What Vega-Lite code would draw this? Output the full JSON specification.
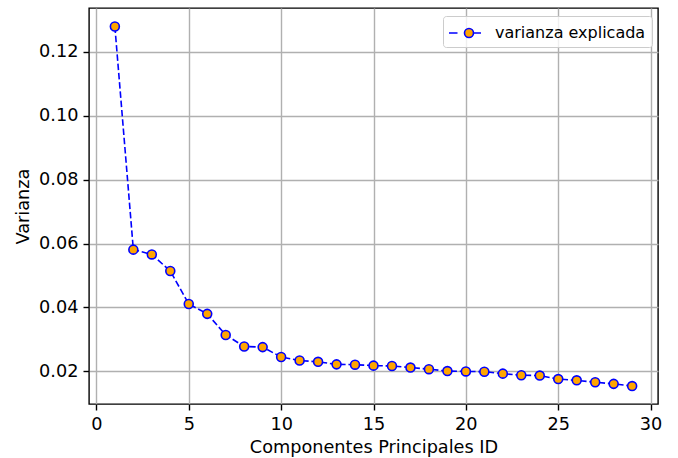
{
  "$schema": "https://vega.github.io/schema/vega-lite/v6.json",
  "width": 569,
  "height": 396,
  "autosize": {"type": "none"},
  "padding": {"left": 89, "top": 8, "right": 20, "bottom": 54},
  "background": "white",
  "config": {
    "font": "DejaVu Sans",
    "view": {"stroke": "black", "strokeWidth": 1.4},
    "axis": {
      "domain": false,
      "grid": true,
      "gridColor": "#b0b0b0",
      "gridWidth": 1.4,
      "tickColor": "black",
      "tickWidth": 1.4,
      "tickSize": 6,
      "labelFont": "DejaVu Sans",
      "labelFontSize": 17.7,
      "labelColor": "black",
      "labelPadding": 5,
      "titleFont": "DejaVu Sans",
      "titleFontSize": 17.7,
      "titleFontWeight": "normal",
      "titleColor": "black"
    }
  },
  "data": {
    "values": [
      {"componente": 1, "varianza": 0.1279},
      {"componente": 2, "varianza": 0.0581},
      {"componente": 3, "varianza": 0.0566},
      {"componente": 4, "varianza": 0.0514},
      {"componente": 5, "varianza": 0.0411},
      {"componente": 6, "varianza": 0.0380},
      {"componente": 7, "varianza": 0.0314},
      {"componente": 8, "varianza": 0.0278},
      {"componente": 9, "varianza": 0.0276},
      {"componente": 10, "varianza": 0.0245},
      {"componente": 11, "varianza": 0.0234},
      {"componente": 12, "varianza": 0.0230},
      {"componente": 13, "varianza": 0.0222},
      {"componente": 14, "varianza": 0.0221},
      {"componente": 15, "varianza": 0.0218},
      {"componente": 16, "varianza": 0.0217},
      {"componente": 17, "varianza": 0.0212},
      {"componente": 18, "varianza": 0.0207},
      {"componente": 19, "varianza": 0.0201},
      {"componente": 20, "varianza": 0.0200},
      {"componente": 21, "varianza": 0.0199},
      {"componente": 22, "varianza": 0.0193},
      {"componente": 23, "varianza": 0.0188},
      {"componente": 24, "varianza": 0.0187},
      {"componente": 25, "varianza": 0.0176},
      {"componente": 26, "varianza": 0.0172},
      {"componente": 27, "varianza": 0.0166},
      {"componente": 28, "varianza": 0.0161},
      {"componente": 29, "varianza": 0.0154}
    ]
  },
  "encoding": {
    "x": {
      "field": "componente",
      "type": "quantitative",
      "scale": {"domain": [-0.4, 30.4], "nice": false, "zero": false},
      "axis": {"values": [0, 5, 10, 15, 20, 25, 30], "title": "Componentes Principales ID", "titlePadding": 6}
    },
    "y": {
      "field": "varianza",
      "type": "quantitative",
      "scale": {"domain": [0.0098, 0.1337], "nice": false, "zero": false},
      "axis": {"values": [0.02, 0.04, 0.06, 0.08, 0.1, 0.12], "format": ".2f", "title": "Varianza", "titlePadding": 6}
    }
  },
  "layer": [
    {
      "mark": {"type": "line", "strokeDash": [6.5, 2.8], "strokeWidth": 1.6},
      "encoding": {
        "stroke": {
          "datum": "varianza explicada",
          "type": "nominal",
          "scale": {"range": ["#0000ff"]},
          "legend": {
            "title": null,
            "orient": "none",
            "legendX": 354,
            "legendY": 8,
            "padding": 6,
            "symbolOffset": 9,
            "labelOffset": 15,
            "labelFont": "DejaVu Sans",
            "labelFontSize": 16,
            "labelColor": "black",
            "strokeColor": "#cccccc",
            "fillColor": "rgba(255,255,255,0.8)",
            "cornerRadius": 3,
            "symbolType": "M-2,0H-1.15M-0.45,0A0.45,0.45,0,1,1,0.45,0A0.45,0.45,0,1,1,-0.45,0ZM0.5,0H1.2",
            "symbolSize": 400,
            "symbolStrokeWidth": 1.6,
            "symbolFillColor": "#ffa500",
            "symbolStrokeColor": "#0000ff",
            "encode": {
              "symbols": {
                "update": {
                  "fill": {"value": "#ffa500"},
                  "stroke": {"value": "#0000ff"},
                  "strokeWidth": {"value": 1.6},
                  "opacity": {"value": 1}
                }
              }
            }
          }
        }
      }
    },
    {
      "mark": {"type": "point", "shape": "circle", "filled": true, "fill": "#ffa500", "stroke": "#0000ff", "strokeWidth": 1.6, "size": 80, "opacity": 1}
    }
  ]
}
